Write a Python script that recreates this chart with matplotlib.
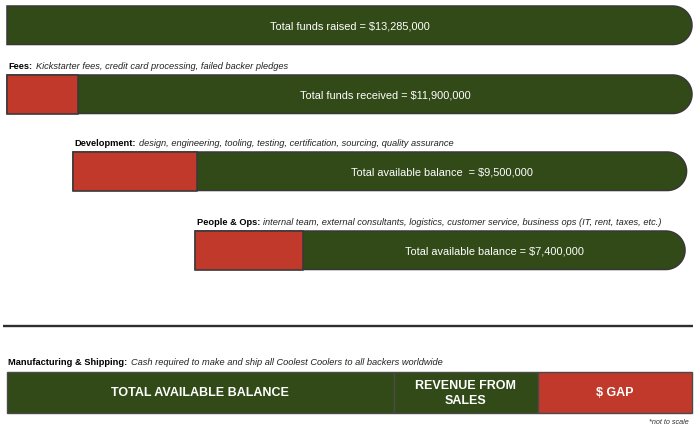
import matplotlib.pyplot as plt
from matplotlib.patches import Polygon, Rectangle
import numpy as np

plt.rcParams['font.family'] = ['Liberation Sans', 'DejaVu Sans']

# values in $ millions
balances = [13.285, 11.9, 9.5, 7.4]
deductions = [0, 1.385, 2.4, 2.1]
bar_starts = [0, 0, 1.28, 3.65]   # where each bar starts (read off the picture, not to scale)
bar_texts = ['Total funds raised = $13,285,000',
             'Total funds received = $11,900,000',
             'Total available balance  = $9,500,000',
             'Total available balance = $7,400,000']
label_heads = [None, 'Fees:', 'Development:', 'People & Ops:']
label_descs = [None,
               'Kickstarter fees, credit card processing, failed backer pledges',
               'design, engineering, tooling, testing, certification, sourcing, quality assurance',
               'internal team, external consultants, logistics, customer service, business ops (IT, rent, taxes, etc.)']

final_names = ['TOTAL AVAILABLE BALANCE', 'REVENUE FROM\nSALES', '$ GAP']
final_values = [7.5, 2.8, 2.98]
final_head = 'Manufacturing & Shipping:'
final_desc = 'Cash required to make and ship all Coolest Coolers to all backers worldwide'

GREEN = '#324a17'
RED = '#c0392a'
EDGE = '#383838'

W, H = 700, 431
fig = plt.figure(figsize=(W / 100, H / 100), dpi=100)
ax = fig.add_axes([0, 0, 1, 1])
ax.axis('off')

px_per_m = 685 / balances[0]
ax.set_xlim(-7 / px_per_m, (W - 7) / px_per_m)
ax.set_ylim(H, 0)

bar_tops = [7, 76, 153, 232]
bar_h = 38.5


def label(x, y, head, desc):
    t = ax.text(x, y, head, fontsize=6.65, fontweight='bold', va='baseline', ha='left')
    fig.canvas.draw()
    bb = t.get_window_extent()
    x2 = ax.transData.inverted().transform((bb.x1 + 3, 0))[0]
    ax.text(x2, y, desc, fontsize=6.65, style='italic', va='baseline', ha='left', color='#222222')


def rounded_bar(x0, x1, top, h, color):
    r = h / 2
    rx = r / px_per_m
    ang = np.linspace(np.pi / 2, -np.pi / 2, 40)
    arc = np.column_stack([x1 - rx + rx * np.cos(ang), top + r - r * np.sin(ang)])
    verts = np.vstack([[[x0, top]], arc, [[x0, top + h]]])
    ax.add_patch(Polygon(verts, closed=True, facecolor=color, edgecolor=EDGE, lw=1.1))


for i in range(len(balances)):
    x0 = bar_starts[i]
    split = x0 + deductions[i]
    end = split + balances[i]
    top = bar_tops[i]
    rounded_bar(x0, end, top, bar_h, GREEN)
    if deductions[i] > 0:
        ax.add_patch(Rectangle((x0, top), deductions[i], bar_h, facecolor=RED,
                               edgecolor=EDGE, lw=1.1))
    ax.text((split + end) / 2, top + bar_h / 2, bar_texts[i], color='white',
            fontsize=7.9, ha='center', va='center')
    if label_heads[i]:
        label(x0 + 1.5 / px_per_m, top - 7, label_heads[i], label_descs[i])

# separator
ax.plot([-4 / px_per_m, 686 / px_per_m], [327, 327], color='#2e2e2e', lw=1.7,
        solid_capstyle='butt')

# manufacturing bar
top5 = 373
h5 = 41
label(1.5 / px_per_m, top5 - 8, final_head, final_desc)
colors5 = [GREEN, GREEN, RED]
left = 0
for name, val, c in zip(final_names, final_values, colors5):
    ax.add_patch(Rectangle((left, top5), val, h5, facecolor=c, edgecolor='#4a4a4a', lw=1.0))
    ax.text(left + val / 2, top5 + h5 / 2, name, color='white', fontsize=9.0,
            fontweight='bold', ha='center', va='center', linespacing=1.35)
    left += val

ax.text(682 / px_per_m, 423, '*not to scale', fontsize=5.2, style='italic',
        ha='right', va='center', color='#333333')

fig.savefig('out.png', dpi=100)
